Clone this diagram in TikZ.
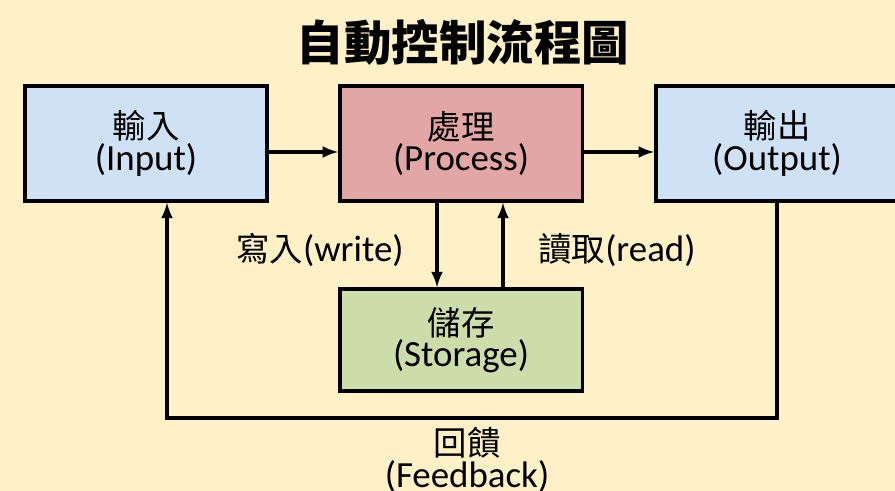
\documentclass[tikz,border=0pt]{standalone}
\usepackage{fontspec}
\setmainfont{Carlito}
\newfontfamily\cjk{Noto Sans CJK TC}
\usepackage{xcolor}
\usepackage{tikz}
\tikzset{>=latex}

\definecolor{bgyellow}{HTML}{FEF0C7}
\definecolor{boxblue}{HTML}{CFE1F4}
\definecolor{boxred}{HTML}{E2A6A6}
\definecolor{boxgreen}{HTML}{CCDCAA}

\newcommand{\zh}[1]{{\cjk\fontsize{19}{18}\selectfont #1}}

\tikzset{
    block/.style={draw=black, line width=2pt, minimum width=4.85cm, minimum height=2.3cm, align=center, font=\fontsize{21}{18}\selectfont},
    flow/.style={->, line width=2pt},
    lab/.style={font=\fontsize{21}{18}\selectfont, align=center}
}

\begin{document}
\begin{tikzpicture}

                    \fill[bgyellow] (0,0) rectangle (17.9,9.82);
                    \useasboundingbox (0,0) rectangle (17.9,9.82);

                    \node[font=\cjk\bfseries\fontsize{27}{28}\selectfont] (title) at (9.26,8.98) {自動控制流程圖};

                    \node[block, fill=boxblue] (input) at (2.92,6.95) {\zh{輸入}\\(Input)};
                    \node[block, fill=boxred] (process) at (9.22,6.95) {\zh{處理}\\(Process)};
                    \node[block, fill=boxblue] (output) at (15.54,6.95) {\zh{輸出}\\(Output)};
                    \node[block, fill=boxgreen, minimum height=2.04cm] (storage) at (9.22,3.02) {\zh{儲存}\\(Storage)};

                    \coordinate (fb) at (0,1.46);

                    \draw[flow] ([yshift=-0.17cm]input.east) -- ([yshift=-0.17cm]process.west);
                    \draw[flow] ([yshift=-0.17cm]process.east) -- ([yshift=-0.17cm]output.west);
                    \draw[flow] ([xshift=-0.48cm]process.south) -- ([xshift=-0.48cm]storage.north);
                    \draw[flow] ([xshift=0.84cm]storage.north) -- ([xshift=0.84cm]process.south);
                    \draw[flow] (output.south) -- (output.south |- fb) -- ([xshift=0.42cm]input.south |- fb) -- ([xshift=0.42cm]input.south);

                    \node[lab] (write) at (6.4,4.82) {\zh{寫入}(write)};
                    \node[lab] (read) at (12.34,4.82) {\zh{讀取}(read)};
                    \node[lab] (feedback) at (9.34,0.62) {\zh{回饋}\\(Feedback)};

                \end{tikzpicture}
\end{document}
